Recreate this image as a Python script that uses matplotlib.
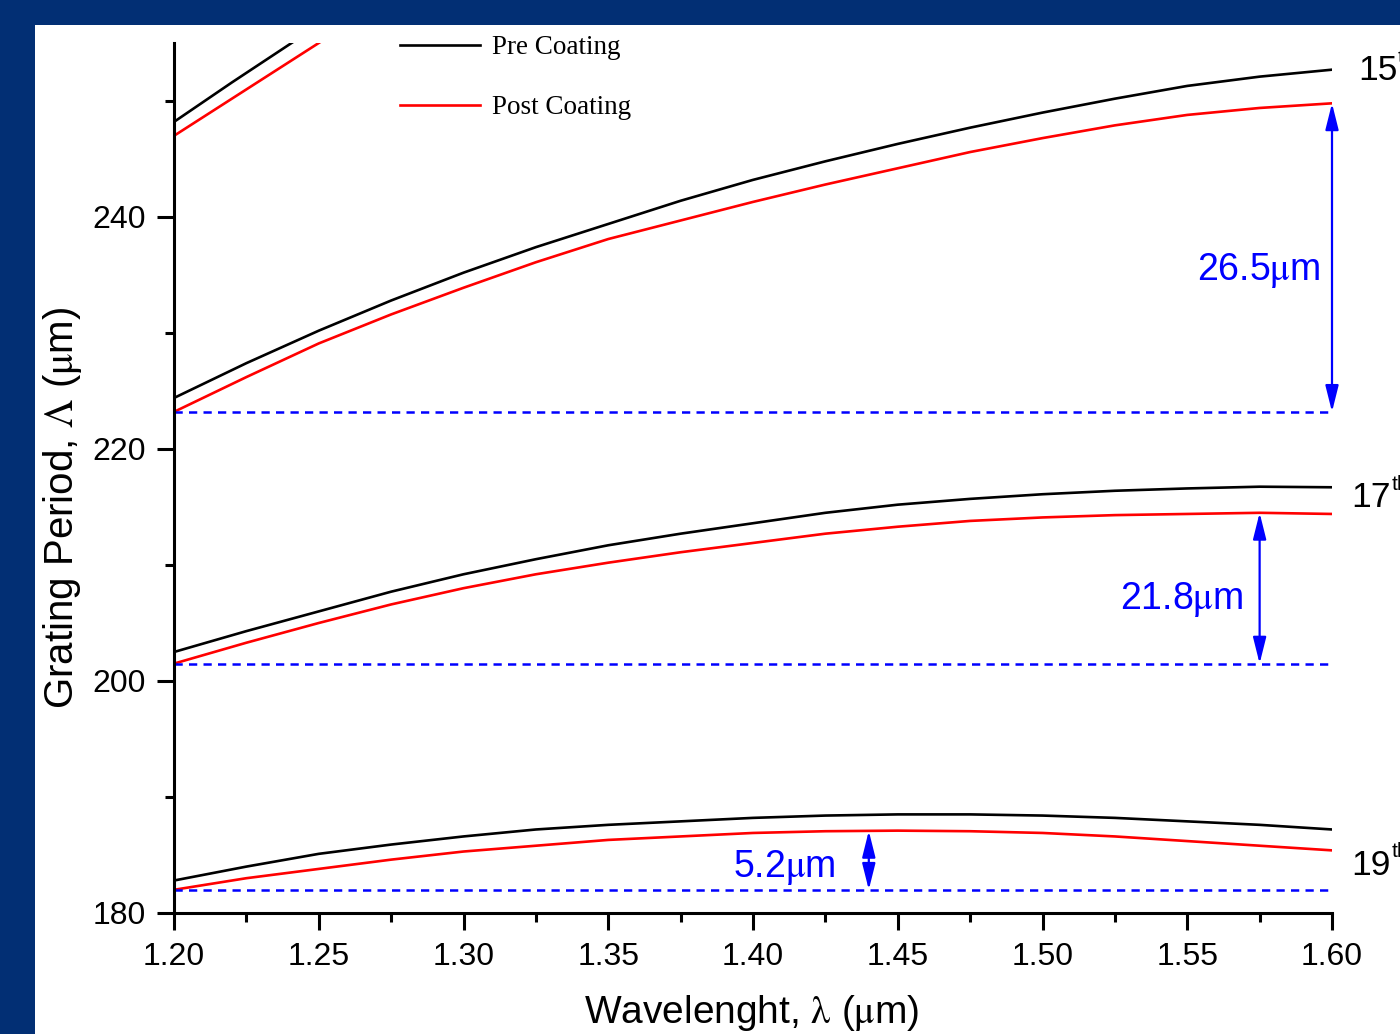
import numpy as np
import matplotlib
matplotlib.use("Agg")
import matplotlib.pyplot as plt
from matplotlib.patches import Rectangle
from matplotlib.ticker import MultipleLocator

plt.rcParams["font.family"] = ["Liberation Sans", "DejaVu Sans"]
plt.rcParams["mathtext.fontset"] = "stix"

NAVY = "#022f74"

# wavelength grid (um) and grating period (um) per resonance order
WL = [1.200, 1.225, 1.250, 1.275, 1.300, 1.325, 1.350, 1.375, 1.400,
      1.425, 1.450, 1.475, 1.500, 1.525, 1.550, 1.575, 1.600]

PRE_15 = [224.4, 227.4, 230.2, 232.8, 235.2, 237.4, 239.4, 241.4, 243.2,
          244.8, 246.3, 247.7, 249.0, 250.2, 251.3, 252.1, 252.7]
POST_15 = [223.2, 226.2, 229.1, 231.6, 233.9, 236.1, 238.1, 239.7, 241.3,
           242.8, 244.2, 245.6, 246.8, 247.9, 248.8, 249.4, 249.8]

PRE_17 = [202.5, 204.3, 206.0, 207.7, 209.2, 210.5, 211.7, 212.7, 213.6,
          214.5, 215.2, 215.7, 216.1, 216.4, 216.6, 216.75, 216.7]
POST_17 = [201.5, 203.3, 205.0, 206.6, 208.0, 209.2, 210.2, 211.1, 211.9,
           212.7, 213.3, 213.8, 214.1, 214.3, 214.4, 214.5, 214.4]

PRE_19 = [182.8, 184.0, 185.1, 185.9, 186.6, 187.2, 187.6, 187.9, 188.2,
          188.4, 188.5, 188.5, 188.4, 188.2, 187.9, 187.6, 187.2]
POST_19 = [182.0, 183.0, 183.8, 184.6, 185.3, 185.8, 186.3, 186.6, 186.9,
           187.05, 187.1, 187.05, 186.9, 186.6, 186.2, 185.8, 185.4]

# lower order, leaves the frame almost immediately
WL_13 = [1.20, 1.22, 1.24, 1.26]
PRE_13 = [248.2, 251.6, 254.9, 258.2]
POST_13 = [247.0, 250.2, 253.4, 256.6]

ORDER_LABELS = ["15", "17", "19"]
ORDER_LABEL_POS = [(1.6089, 252.6), (1.6068, 215.8), (1.6068, 184.1)]

GAP_LABELS = ["26.5", "21.8", "5.2"]
ARROW_X = [1.60, 1.575, 1.44]
GAP_TEXT_POS = [(1.596, 235.35), (1.5696, 207.0), (1.4287, 183.9)]

fig = plt.figure(figsize=(14, 10.34), dpi=100, facecolor=NAVY)
fig.add_artist(Rectangle((35 / 1400, 0), 1 - 35 / 1400, 1 - 25 / 1034,
                         transform=fig.transFigure, facecolor="white",
                         edgecolor="none", zorder=0))

ax = fig.add_axes([174 / 1400, 1 - 913 / 1034, 1158 / 1400, 870 / 1034])
ax.set_facecolor("white")

lw = 1.9
ax.plot(WL, PRE_15, color="black", lw=lw, label="Pre Coating")
ax.plot(WL, POST_15, color="red", lw=lw, label="Post Coating")
for pre, post in [(PRE_17, POST_17), (PRE_19, POST_19)]:
    ax.plot(WL, pre, color="black", lw=lw)
    ax.plot(WL, post, color="red", lw=lw)
ax.plot(WL_13, PRE_13, color="black", lw=lw)
ax.plot(WL_13, POST_13, color="red", lw=lw)

# shift of each order relative to its short-wavelength start
for post, ax_x, lab, (tx, ty) in zip([POST_15, POST_17, POST_19], ARROW_X,
                                     GAP_LABELS, GAP_TEXT_POS):
    base = post[0]
    ax.plot([WL[0], WL[-1]], [base, base], color="blue", lw=1.8,
            linestyle=(0, (3.3, 2.5)))
    top = np.interp(ax_x, WL, post)
    ax.annotate("", xy=(ax_x, top), xytext=(ax_x, base),
                arrowprops=dict(arrowstyle="<|-|>,head_length=0.8,head_width=0.2",
                                color="blue", lw=1.6, shrinkA=0, shrinkB=0,
                                mutation_scale=20))
    ax.text(tx, ty, lab + r"$\mathrm{\mu}$m", color="blue", fontsize=27,
            ha="right", va="center")

# order names on the right, "th" raised as a superscript
for lab, (x, y) in zip(ORDER_LABELS, ORDER_LABEL_POS):
    ax.text(x, y, lab, fontsize=25.5, ha="left", va="center", clip_on=False)
    ax.annotate("th", xy=(x, y), xytext=(28.8, 3), textcoords="offset points",
                fontsize=15, ha="left", va="bottom", annotation_clip=False)

ax.set_xlim(1.20, 1.60)
ax.set_ylim(180, 255)
ax.xaxis.set_major_locator(MultipleLocator(0.05))
ax.xaxis.set_minor_locator(MultipleLocator(0.025))
ax.yaxis.set_major_locator(MultipleLocator(20))
ax.yaxis.set_minor_locator(MultipleLocator(10))
ax.xaxis.set_major_formatter(plt.FormatStrFormatter("%.2f"))

for side in ["top", "right"]:
    ax.spines[side].set_visible(False)
for side in ["left", "bottom"]:
    ax.spines[side].set_linewidth(2.2)
ax.tick_params(which="major", direction="out", length=12, width=2.2,
               labelsize=23)
ax.tick_params(which="minor", direction="out", length=6.5, width=2.2)
ax.tick_params(axis="x", which="major", pad=9)
ax.tick_params(axis="y", which="major", pad=8)

ax.set_xlabel(r"Wavelenght, $\mathrm{\lambda}$ ($\mathrm{\mu}$m)", fontsize=28)
ax.set_ylabel(r"Grating Period, $\mathrm{\Lambda}$ ($\mathrm{\mu}$m)", fontsize=29)
ax.xaxis.set_label_coords(0.499, -0.092)
ax.yaxis.set_label_coords(-0.0775, 0.466)

ax.legend(loc="upper left", bbox_to_anchor=(0.195, 1.009), frameon=False,
          prop={"family": "Liberation Serif", "size": 19.5},
          handlelength=2.95, handletextpad=0.45, labelspacing=1.3,
          borderpad=0, borderaxespad=0)

fig.savefig("out.png", dpi=100, facecolor=NAVY)
